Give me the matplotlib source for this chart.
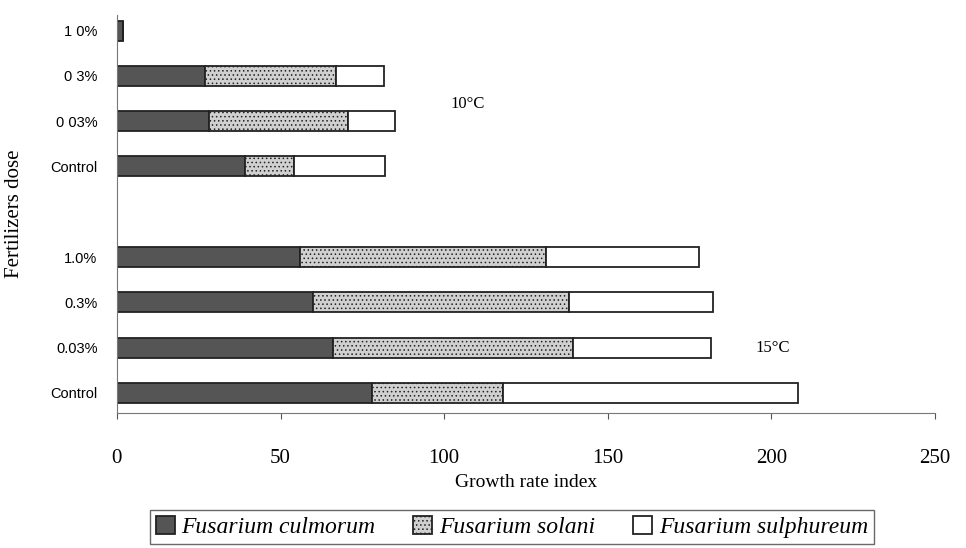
import matplotlib
matplotlib.use("Agg")
import matplotlib.pyplot as plt
import numpy as np

categories = ["Control", "0.03%", "0.3%", "1.0%", "", "Control", "0 03%", "0 3%", "1 0%"]
culmorum = [78, 66, 60, 56, 0, 39, 28, 27, 2]
solani = [40, 73.5, 78, 75, 0, 15, 42.5, 40, 0]
sulphureum = [90, 42, 44, 47, 0, 28, 14.5, 14.5, 0]
series_names = ["Fusarium culmorum", "Fusarium solani", "Fusarium sulphureum"]
xticks = [0, 50, 100, 150, 200, 250]

plt.rcParams['font.family'] = ['Liberation Serif', 'DejaVu Serif']
plt.rcParams['hatch.color'] = '#8a8a8a'
plt.rcParams['hatch.linewidth'] = 0.6

fig = plt.figure(figsize=(9.66, 5.48), dpi=100)
ax = fig.add_axes([0.121, 0.246, 0.847, 0.727])

y = np.arange(len(categories))
h = 0.44
c = np.array(culmorum, dtype=float)
s = np.array(solani, dtype=float)
u = np.array(sulphureum, dtype=float)
mask = (c + s + u) > 0

b1 = ax.barh(y[mask], c[mask], height=h, color='#555555', edgecolor='#222222', linewidth=1.3, label=series_names[0])
b2 = ax.barh(y[mask], s[mask], left=c[mask], height=h, color='#d0d0d0', edgecolor='#222222', linewidth=1.3,
             hatch='....', label=series_names[1])
b3 = ax.barh(y[mask], u[mask], left=(c + s)[mask], height=h, color='white', edgecolor='#222222', linewidth=1.3,
             label=series_names[2])

ax.set_xlim(0, 250)
ax.set_ylim(-0.45, 8.35)
ax.set_yticks(y[mask])
ax.set_yticklabels([categories[i] for i in range(len(categories)) if mask[i]], fontsize=10.5,
                   family=['Liberation Sans Narrow', 'Liberation Sans', 'DejaVu Sans'])
ax.set_xticks(xticks)
ax.tick_params(axis='x', labelsize=15, pad=22, length=4, color='#555555')
ax.tick_params(axis='y', length=0, pad=14)
for sp in ['top', 'right']:
    ax.spines[sp].set_visible(False)
ax.spines['left'].set_color('#777777')
ax.spines['bottom'].set_color('#777777')

ax.set_xlabel("Growth rate index", fontsize=14, labelpad=4)
fig.text(0.015, 0.61, "Fertilizers dose", rotation=90, fontsize=15, va='center', ha='center')

ax.text(102, 6.3, "10°C", fontsize=12)
ax.text(195, 0.9, "15°C", fontsize=12)

leg = fig.legend(handles=[b1, b2, b3], loc='center', bbox_to_anchor=(0.53, 0.038), ncol=3,
                 prop={'style': 'italic', 'size': 17}, frameon=True, fancybox=False,
                 edgecolor='#444444', handlelength=0.8, handleheight=0.8, handletextpad=0.3,
                 columnspacing=1.6, borderpad=0.25)
leg.get_frame().set_linewidth(1.0)

fig.savefig("out.png", dpi=100)
